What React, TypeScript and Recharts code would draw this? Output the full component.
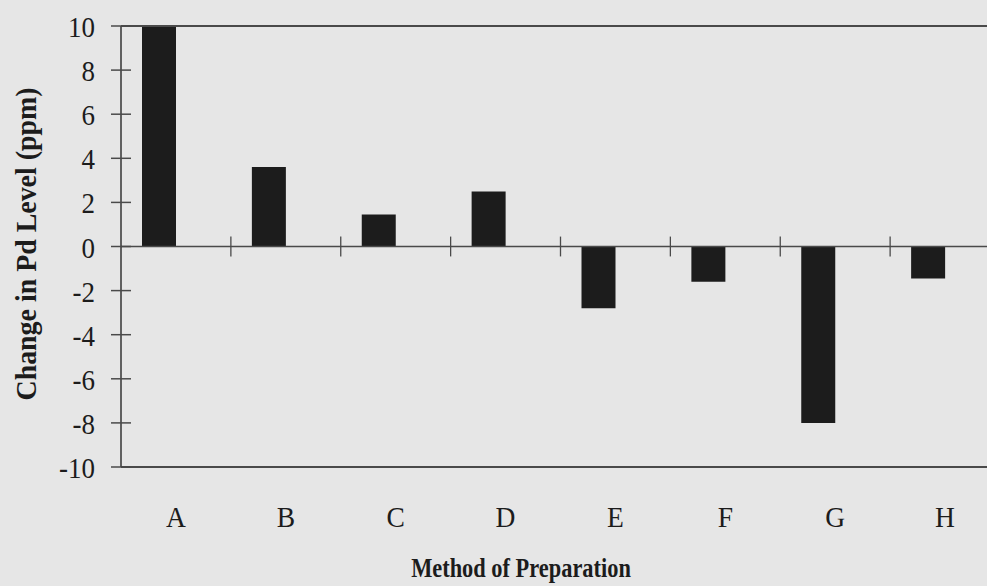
import { Bar, BarChart, ReferenceLine, XAxis, YAxis } from "recharts";

const methods = ["A", "B", "C", "D", "E", "F", "G", "H"];
const pdChange = [10, 3.6, 1.45, 2.5, -2.8, -1.6, -8.0, -1.45];
const levelTicks = [-10, -8, -6, -4, -2, 0, 2, 4, 6, 8, 10];

const INK = "#1c1c1c";
const RULE = "#4a4a4a";
const FONT = "'Liberation Serif', 'Times New Roman', serif";

const chartData = methods.map((method, i) => ({ method, change: pdChange[i] }));

interface TickProps {
  x?: number;
  y?: number;
  payload?: { value?: string | number };
}

function MethodTick({ x = 0, y = 0, payload }: TickProps) {
  return (
    <text
      transform={`translate(${x}, ${y + 60}) scale(0.95, 1)`}
      textAnchor="middle"
      fontFamily={FONT}
      fontSize={29}
      fill={INK}
    >
      {payload?.value}
    </text>
  );
}

function LevelTick({ x = 0, y = 0, payload }: TickProps) {
  return (
    <g>
      <line x1={x - 10} x2={x + 10} y1={y} y2={y} stroke={RULE} strokeWidth={1.5} />
      <text
        transform={`translate(${x - 26}, ${y + 11}) scale(0.93, 1)`}
        textAnchor="end"
        fontFamily={FONT}
        fontSize={29}
        fill={INK}
      >
        {payload?.value}
      </text>
    </g>
  );
}

export default function App() {
  return (
    <div
      style={{
        position: "absolute",
        left: 0,
        top: 0,
        width: 987,
        height: 586,
        overflow: "hidden",
        background: "#e6e6e6",
      }}
    >
      <BarChart
        width={1000}
        height={586}
        data={chartData}
        margin={{ top: 26, right: 0, bottom: 0, left: 0 }}
        barCategoryGap={21}
        barGap={0}
      >
        <XAxis
          dataKey="method"
          axisLine={false}
          tickLine={false}
          tickSize={0}
          tickMargin={0}
          height={119}
          interval={0}
          tick={<MethodTick />}
          label={{
            content: () => (
              <text
                transform="translate(521, 577) scale(0.8, 1)"
                textAnchor="middle"
                fontFamily={FONT}
                fontSize={28}
                fontWeight={700}
                fill={INK}
              >
                Method of Preparation
              </text>
            ),
          }}
        />
        <YAxis
          width={121}
          domain={[-10, 10]}
          ticks={levelTicks}
          interval={0}
          tickLine={false}
          tickSize={0}
          tickMargin={0}
          axisLine={{ stroke: "#333", strokeWidth: 1.5 }}
          tick={<LevelTick />}
          label={{
            content: () => (
              <text
                transform="translate(36, 244) rotate(-90) scale(0.93, 1)"
                textAnchor="middle"
                fontFamily={FONT}
                fontSize={30}
                fontWeight={700}
                fill={INK}
              >
                Change in Pd Level (ppm)
              </text>
            ),
          }}
        />
        <ReferenceLine y={10} stroke={RULE} strokeWidth={1.8} />
        <ReferenceLine y={-10} stroke={RULE} strokeWidth={1.8} />
        <ReferenceLine y={0} stroke={RULE} strokeWidth={1.3} />
        {methods.slice(1).map((m) => (
          <ReferenceLine
            key={m}
            position="start"
            segment={[
              { x: m, y: -0.45 },
              { x: m, y: 0.45 },
            ]}
            stroke={RULE}
            strokeWidth={1.3}
          />
        ))}
        <Bar dataKey="change" fill={INK} isAnimationActive={false} />
        <Bar dataKey="pair" fill={INK} isAnimationActive={false} />
      </BarChart>
    </div>
  );
}
